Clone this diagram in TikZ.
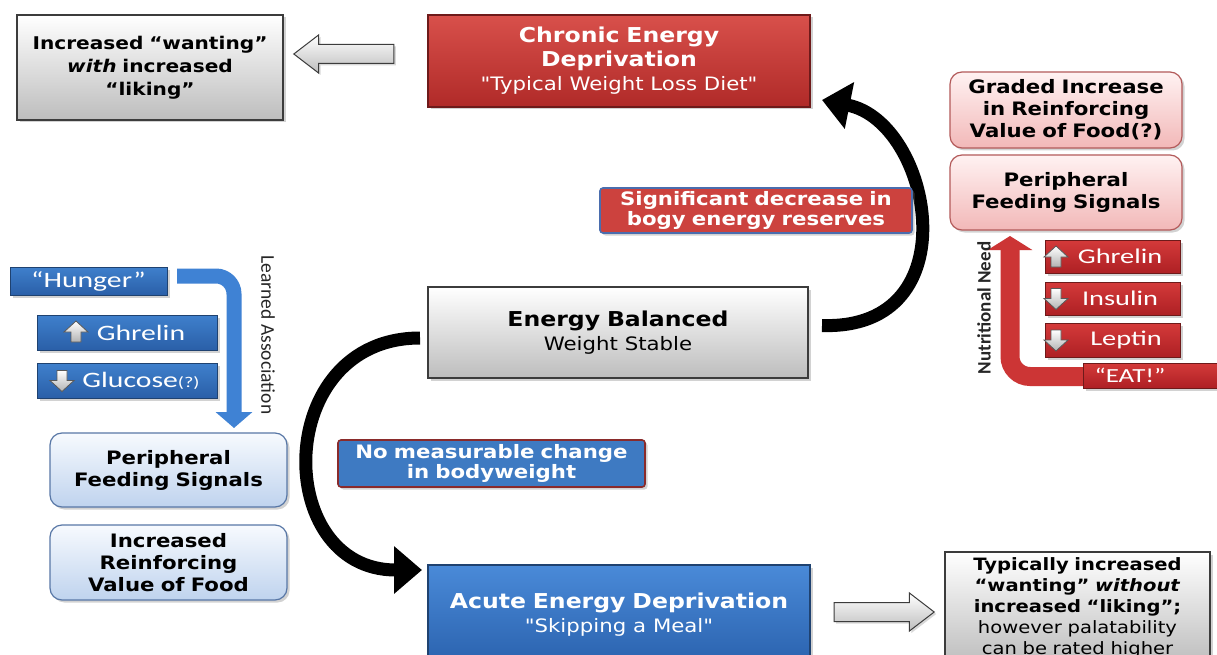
\documentclass[tikz,border=0pt]{standalone}
\usepackage{fontspec}
\usetikzlibrary{arrows.meta,shadows,shapes.arrows,calc}
\newfontfamily\hd[FakeStretch=1.15]{DejaVu Sans}
\newfontfamily\cb[FakeStretch=1.35]{Carlito}
\newfontfamily\cbr{Carlito}
\definecolor{redtop}{HTML}{D8504B}
\definecolor{redbot}{HTML}{B02A28}
\definecolor{rededge}{HTML}{6E1A1A}
\definecolor{bluetop}{HTML}{4A8AD8}
\definecolor{bluebot}{HTML}{2A62AE}
\definecolor{blueedge}{HTML}{1F4270}
\definecolor{grayedge}{HTML}{3C3C3C}
\definecolor{graybot}{HTML}{BDBDBD}
\definecolor{pinktop}{HTML}{FFF2F2}
\definecolor{pinkbot}{HTML}{F2B8B8}
\definecolor{pinkedge}{HTML}{B35A5A}
\definecolor{lbtop}{HTML}{F7FAFE}
\definecolor{lbbot}{HTML}{BFD3EE}
\definecolor{lbedge}{HTML}{5877A6}
\definecolor{bartop}{HTML}{3F80CC}
\definecolor{barbot}{HTML}{2A5FA8}
\definecolor{rbartop}{HTML}{D43A3A}
\definecolor{rbarbot}{HTML}{AE2024}
\definecolor{arrblue}{HTML}{3F82D4}
\definecolor{arrred}{HTML}{CC3535}
\definecolor{sigred}{HTML}{CC423E}
\definecolor{sigedge}{HTML}{4A6DAE}
\definecolor{nmcblue}{HTML}{3E7AC2}
\definecolor{nmcedge}{HTML}{8A2B2B}
\pgfdeclarelayer{bg}
\pgfsetlayers{bg,main}
\newcommand\ttl{\hd\bfseries\fontsize{20.5}{24}\selectfont}
\newcommand\sbt{\hd\mdseries\fontsize{18.5}{22}\selectfont}
\begin{document}
\begin{tikzpicture}[x=1pt,y=-1pt,
  bsz/.style 2 args={text width=#1pt, minimum height=#2pt},
  box/.style={draw, line width=1.2pt, inner sep=0pt, outer sep=0pt, align=center,
    drop shadow={shadow xshift=2.5pt, shadow yshift=-2.5pt, opacity=.35}},
  graybox/.style={box, draw=grayedge, top color=white, bottom color=graybot, text=black},
  redbox/.style={box, draw=rededge, top color=redtop, bottom color=redbot, text=white},
  bluebox/.style={box, draw=blueedge, top color=bluetop, bottom color=bluebot, text=white},
  state/.style={font=\ttl},
  pinkbox/.style={box, rounded corners=12pt, draw=pinkedge, top color=pinktop, bottom color=pinkbot,
    text=black, font=\hd\bfseries\fontsize{18.5}{22}\selectfont},
  lbbox/.style={box, rounded corners=12pt, draw=lbedge, top color=lbtop, bottom color=lbbot,
    text=black, font=\hd\bfseries\fontsize{18.5}{22}\selectfont},
  bbar/.style={box, draw=blueedge, line width=.8pt, top color=bartop, bottom color=barbot,
    text=white, font=\cb\fontsize{22}{24}\selectfont},
  rbar/.style={box, draw=rededge, line width=.8pt, top color=rbartop, bottom color=rbarbot,
    text=white, font=\cb\fontsize{21}{24}\selectfont},
  note/.style={box, rounded corners=3pt, line width=1.6pt, text=white,
    font=\hd\bfseries\fontsize{18.5}{20.5}\selectfont},
  hollow/.style={single arrow, draw=grayedge, line width=1pt, top color=white, bottom color=graybot,
    inner sep=9pt, single arrow head extend=9.5pt, single arrow tip angle=75,
    minimum height=100pt, outer sep=0pt,
    drop shadow={shadow xshift=2pt, shadow yshift=-2pt, opacity=.3}},
  bigarr/.style={line width=13pt, black, -{Triangle[length=28pt,width=46pt]}},
  bluearr/.style={line width=15pt, arrblue, rounded corners=18pt, -{Triangle[length=16pt,width=36pt]}},
  redarr/.style={line width=19pt, arrred, rounded corners=20pt, -{Triangle[length=14pt,width=44pt]}},
  iconst/.style={draw=black!65, line width=.8pt, top color=white, bottom color=black!30},
  uparr/.pic={\draw[iconst] (0,-11)--(12,0)--(5,0)--(5,10)--(-5,10)--(-5,0)--(-12,0)--cycle;},
  dnarr/.pic={\draw[iconst] (0,11)--(12,0)--(5,0)--(5,-10)--(-5,-10)--(-5,0)--(-12,0)--cycle;}
]
\useasboundingbox (0,0) rectangle (1217,655);
\clip (0,0) rectangle (1217,655);

% ---- main states
\node[graybox, bsz={266}{105}, font=\hd\bfseries\fontsize{17.5}{23}\selectfont] (wantL) at (150,67.5)
  {Increased “wanting”\\\textit{with} increased\\“liking”};
\node[redbox, state, bsz={382}{92}] (chronic) at (619,61)
  {Chronic Energy\\Deprivation\\{\sbt "Typical Weight Loss Diet"}};
\node[graybox, state, bsz={380}{91}] (eb) at (618,332.5)
  {Energy Balanced\\{\sbt Weight Stable}};
\node[bluebox, state, bsz={382}{100}] (acute) at (619,615)
  {Acute Energy Deprivation\\{\sbt "Skipping a Meal"}};
\node[graybox, anchor=north, text width=265pt, inner ysep=6pt,
  font=\hd\fontsize{17}{21}\selectfont] (wantR) at (1077.5,552)
  {{\bfseries Typically increased\\“wanting” \textit{without}\\increased “liking”;}\\however palatability\\can be rated higher};

% ---- transition notes
\node[note, draw=sigedge, fill=sigred, bsz={312}{45}] (sig) at (756,210.5)
  {Significant decrease in\\bogy energy reserves};
\node[note, draw=nmcedge, fill=nmcblue, bsz={307}{47}] (nmc) at (491.5,463.5)
  {No measurable change\\in bodyweight};

% ---- right column: chronic deprivation signals
\node[pinkbox, bsz={232}{76}] (graded) at (1066,110)
  {Graded Increase\\in Reinforcing\\Value of Food(?)};
\node[pinkbox, bsz={232}{75}] (rpfs) at (1066,192.5)
  {Peripheral\\Feeding Signals};
\node[rbar, bsz={135}{33}] (rghr) at (1112.5,256.5) {\hspace*{15pt}Ghrelin};
\node[rbar, bsz={135}{33}] (rins) at (1112.5,298.5) {\hspace*{15pt}Insulin};
\node[rbar, bsz={135}{34}] (rlep) at (1112.5,340) {\hspace*{27pt}Leptin};
\node[rbar, bsz={134}{25}, font=\cb\fontsize{20}{22}\selectfont] (eat) at (1150,375.5) {\hspace*{-40pt}“EAT!”};
\pic at (1056,257) {uparr};
\pic at (1056,298.5) {dnarr};
\pic at (1056,340) {dnarr};
\node[rotate=90, font=\cbr\bfseries\fontsize{19}{19}\selectfont, text=black!85] (nneed) at (984,308) {Nutritional Need};

% ---- left column: acute deprivation signals
\node[bbar, bsz={157}{28}] (hunger) at (88.5,281) {“Hunger”};
\node[bbar, bsz={180}{35}] (lghr) at (127,332.5) {\hspace*{28pt}Ghrelin};
\node[bbar, bsz={180}{35}] (lglu) at (127,380.5) {\hspace*{28pt}Glucose{\fontsize{15}{15}\selectfont(?)}};
\pic at (76,332) {uparr};
\pic at (62,380.5) {dnarr};
\node[lbbox, bsz={237}{74}] (lfs) at (168.5,470) {Peripheral\\Feeding Signals};
\node[lbbox, bsz={237}{75}] (lirv) at (168.5,562.5) {Increased\\Reinforcing\\Value of Food};
\node[rotate=-90, font=\cbr\fontsize{19.5}{19.5}\selectfont, text=black!85] (lassoc) at (268,335) {Learned Association};

% ---- hollow arrows towards the outcome boxes
\node[hollow, shape border rotate=180] (hl) at (350,54) {};
\node[hollow] (hr) at (878,612) {};

% ---- connectors, kept beneath the boxes
\coordinate (lahead) at (234,428);
\coordinate (nnhead) at (1010,236);
\begin{pgfonlayer}{bg}
\fill[white] (0,0) rectangle (1217,655);
\draw[bigarr] ([shift={(14,-7)}]eb.east) .. controls +(150,5) and +(110,22) .. ([shift={(12,-7)}]chronic.south east);
\draw[bigarr] ([shift={(-8,5.5)}]eb.west) .. controls +(-148,0) and +(-150,0) .. ([shift={(-6,5)}]acute.north west);
\draw[bluearr] ([shift={(10,-5)}]hunger.east) -| (lahead);
\draw[redarr] ([shift={(4,1)}]eat.west) -| (nnhead);
\end{pgfonlayer}
\end{tikzpicture}
\end{document}
